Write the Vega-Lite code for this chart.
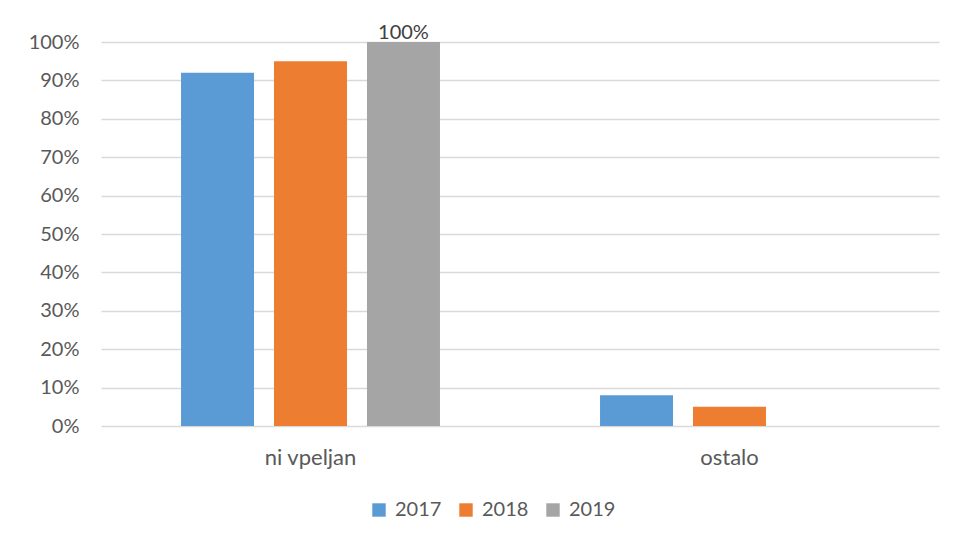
{
  "$schema": "https://vega.github.io/schema/vega-lite/v6.json",
  "autosize": "none",
  "width": 838,
  "height": 384,
  "padding": {"left": 101, "top": 42, "right": 17, "bottom": 115},
  "background": "white",
  "config": {
    "font": "Lato",
    "view": {"stroke": null},
    "axis": {"labelColor": "#595959", "labelFont": "Lato", "labelFontSize": 20}
  },
  "data": {
    "values": [
      {"kategorija": "ni vpeljan", "leto": "2017", "delez": 0.92},
      {"kategorija": "ni vpeljan", "leto": "2018", "delez": 0.95},
      {"kategorija": "ni vpeljan", "leto": "2019", "delez": 1.0, "oznaka": "100%"},
      {"kategorija": "ostalo", "leto": "2017", "delez": 0.08},
      {"kategorija": "ostalo", "leto": "2018", "delez": 0.05},
      {"kategorija": "ostalo", "leto": "2019", "delez": 0.0}
    ]
  },
  "encoding": {
    "x": {
      "field": "kategorija", "type": "nominal", "title": null,
      "scale": {"paddingInner": 0.382, "paddingOuter": 0.191},
      "axis": {"labelAngle": 0, "ticks": false, "domain": false, "labelPadding": 21, "labelFontSize": 22}
    },
    "xOffset": {
      "field": "leto", "type": "nominal",
      "scale": {"paddingInner": 0.215, "paddingOuter": 0}
    },
    "y": {
      "field": "delez", "type": "quantitative", "title": null,
      "scale": {"domain": [0, 1]},
      "axis": {"format": ".0%", "values": [0,0.1,0.2,0.3,0.4,0.5,0.6,0.7,0.8,0.9,1], "labelOverlap": false, "ticks": false, "domain": false, "labelPadding": 22, "labelFontSize": 20, "gridColor": "#d9d9d9", "gridWidth": 1.3}
    }
  },
  "layer": [
    {
      "mark": {"type": "bar"},
      "encoding": {
        "color": {
          "field": "leto", "type": "nominal", "title": null,
          "scale": {"range": ["#5B9BD5", "#ED7D31", "#A5A5A5"]},
          "legend": {
            "orient": "none", "direction": "horizontal", "legendX": 268, "legendY": 458,
            "symbolType": "square", "symbolSize": 180, "symbolStrokeWidth": 0,
            "labelFontSize": 20, "labelColor": "#595959", "labelFont": "Lato",
            "columnPadding": 14, "labelOffset": 6
          }
        }
      }
    },
    {
      "transform": [{"filter": "isValid(datum.oznaka)"}],
      "mark": {"type": "text", "baseline": "bottom", "dy": 1, "fontSize": 20, "color": "#404040", "font": "Lato"},
      "encoding": {"text": {"field": "oznaka", "type": "nominal"}}
    }
  ]
}
